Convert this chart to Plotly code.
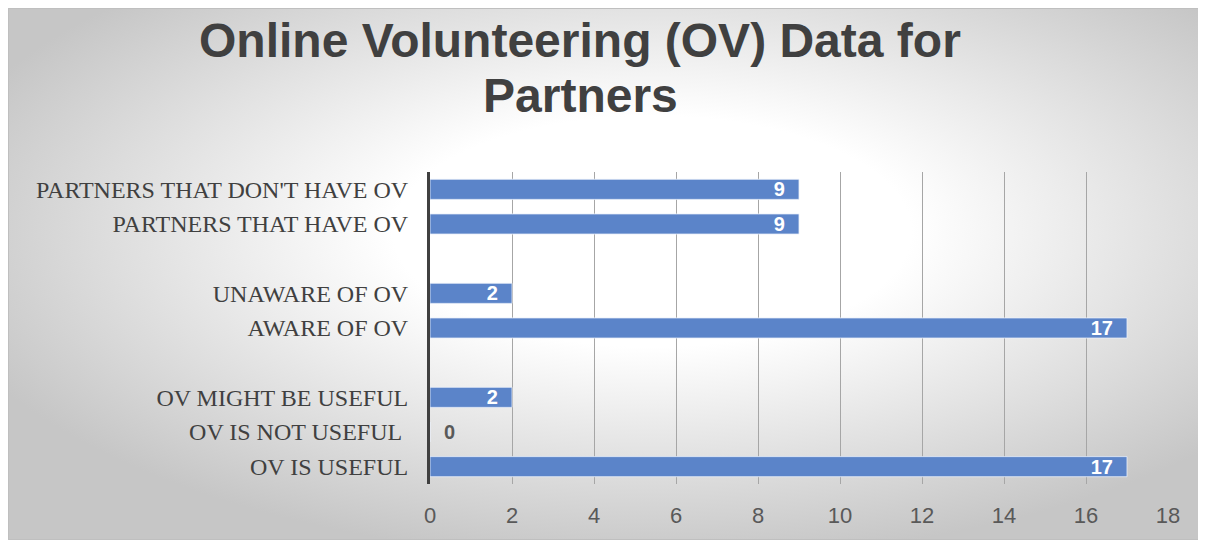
import base64
import plotly.graph_objects as go

# top-to-bottom order; blank entries are the gaps between groups
categories = ["PARTNERS THAT DON'T HAVE OV", "PARTNERS THAT HAVE OV", " ",
              "UNAWARE OF OV", "AWARE OF OV", "  ",
              "OV MIGHT BE USEFUL", "OV IS NOT USEFUL\u00a0", "OV IS USEFUL"]
values = [9, 9, None, 2, 17, None, 2, 0, 17]
x_ticks = [0, 2, 4, 6, 8, 10, 12, 14, 16, 18]

title_lines = ["Online Volunteering (OV) Data for", "Partners"]

# figure sits 8px in from the page corner (body margin), so work in figure px
W, H = 1198, 535
L, R, T, B = 422, 1160, 164, 476   # plot area edges
pw, ph = R - L, B - T


def px(x):
    return (x - L) / pw


def py(y):
    return (B - y) / ph


# radial grey-white background, like the Office chart fill
svg = """<svg xmlns='http://www.w3.org/2000/svg' width='1193' height='533' preserveAspectRatio='none'>
<defs><radialGradient id='g' cx='0.54' cy='0.42' r='0.62'>
<stop offset='0' stop-color='#ffffff'/><stop offset='0.35' stop-color='#ffffff'/>
<stop offset='1' stop-color='#c6c6c6'/></radialGradient></defs>
<rect width='1193' height='533' fill='url(#g)'/></svg>"""
bg = "data:image/svg+xml;base64," + base64.b64encode(svg.encode()).decode()

labels = []
positions = []
colors = []
for v in values:
    if v is None:
        labels.append("")
        positions.append("none")
        colors.append("white")
    elif v == 0:
        labels.append("\u00a0\u00a0" + str(v))
        positions.append("outside")
        colors.append("#595959")
    else:
        labels.append(str(v) + "\u00a0\u00a0")
        positions.append("inside")
        colors.append("white")

lab_font = "Liberation Sans, Arial, sans-serif"

fig = go.Figure()
fig.add_trace(go.Bar(
    y=categories, x=values, orientation="h",
    marker=dict(color="#5b84c9", line=dict(color="rgba(235,240,250,0.8)", width=1)),
    width=0.58,
    text=labels, textposition=positions, insidetextanchor="end", constraintext="none",
    textfont=dict(family=lab_font, size=20, color=colors, weight="bold"),
    outsidetextfont=dict(family=lab_font, size=20, color="#595959", weight="bold"),
    cliponaxis=False, hoverinfo="x+y",
))

fx0, fx1, fy0, fy1 = 0, 1193, 0, 532
fig.add_layout_image(dict(
    source=bg, xref="paper", yref="paper",
    x=px(fx0), y=py(fy0), sizex=(fx1 - fx0) / pw, sizey=(fy1 - fy0) / ph,
    sizing="stretch", layer="below", xanchor="left", yanchor="top",
))
fig.add_shape(type="rect", xref="paper", yref="paper",
              x0=px(fx0 + 0.5), x1=px(fx1 - 0.5), y0=py(fy1 - 0.5), y1=py(fy0 + 0.5),
              line=dict(color="#bfbfbf", width=1), layer="below")

# title as two annotations to get the tight line spacing of the original
for text, yc in zip(title_lines, [33, 87]):
    fig.add_annotation(text=text, xref="paper", yref="paper", x=px(572), y=py(yc),
                       xanchor="center", yanchor="middle", showarrow=False,
                       font=dict(family=lab_font, size=48, color="#404040", weight="bold"))

fig.update_layout(
    width=W, height=H,
    margin=dict(l=L, r=W - R, t=T, b=H - B),
    paper_bgcolor="white", plot_bgcolor="rgba(0,0,0,0)",
    showlegend=False,
    xaxis=dict(range=[0, 18], tickvals=x_ticks, showgrid=True, gridcolor="#a6a6a6", gridwidth=1,
               zeroline=False, showline=False, ticks="",
               ticklabelstandoff=16,
               tickfont=dict(family=lab_font, size=22, color="#595959")),
    yaxis=dict(categoryorder="array", categoryarray=categories, autorange="reversed",
               showline=True, linecolor="#404040", linewidth=3, showgrid=False, ticks="",
               ticklabelstandoff=14,
               tickfont=dict(family="Liberation Serif, Times New Roman, serif", size=24, color="#404040")),
)

fig.write_html("out.html")
